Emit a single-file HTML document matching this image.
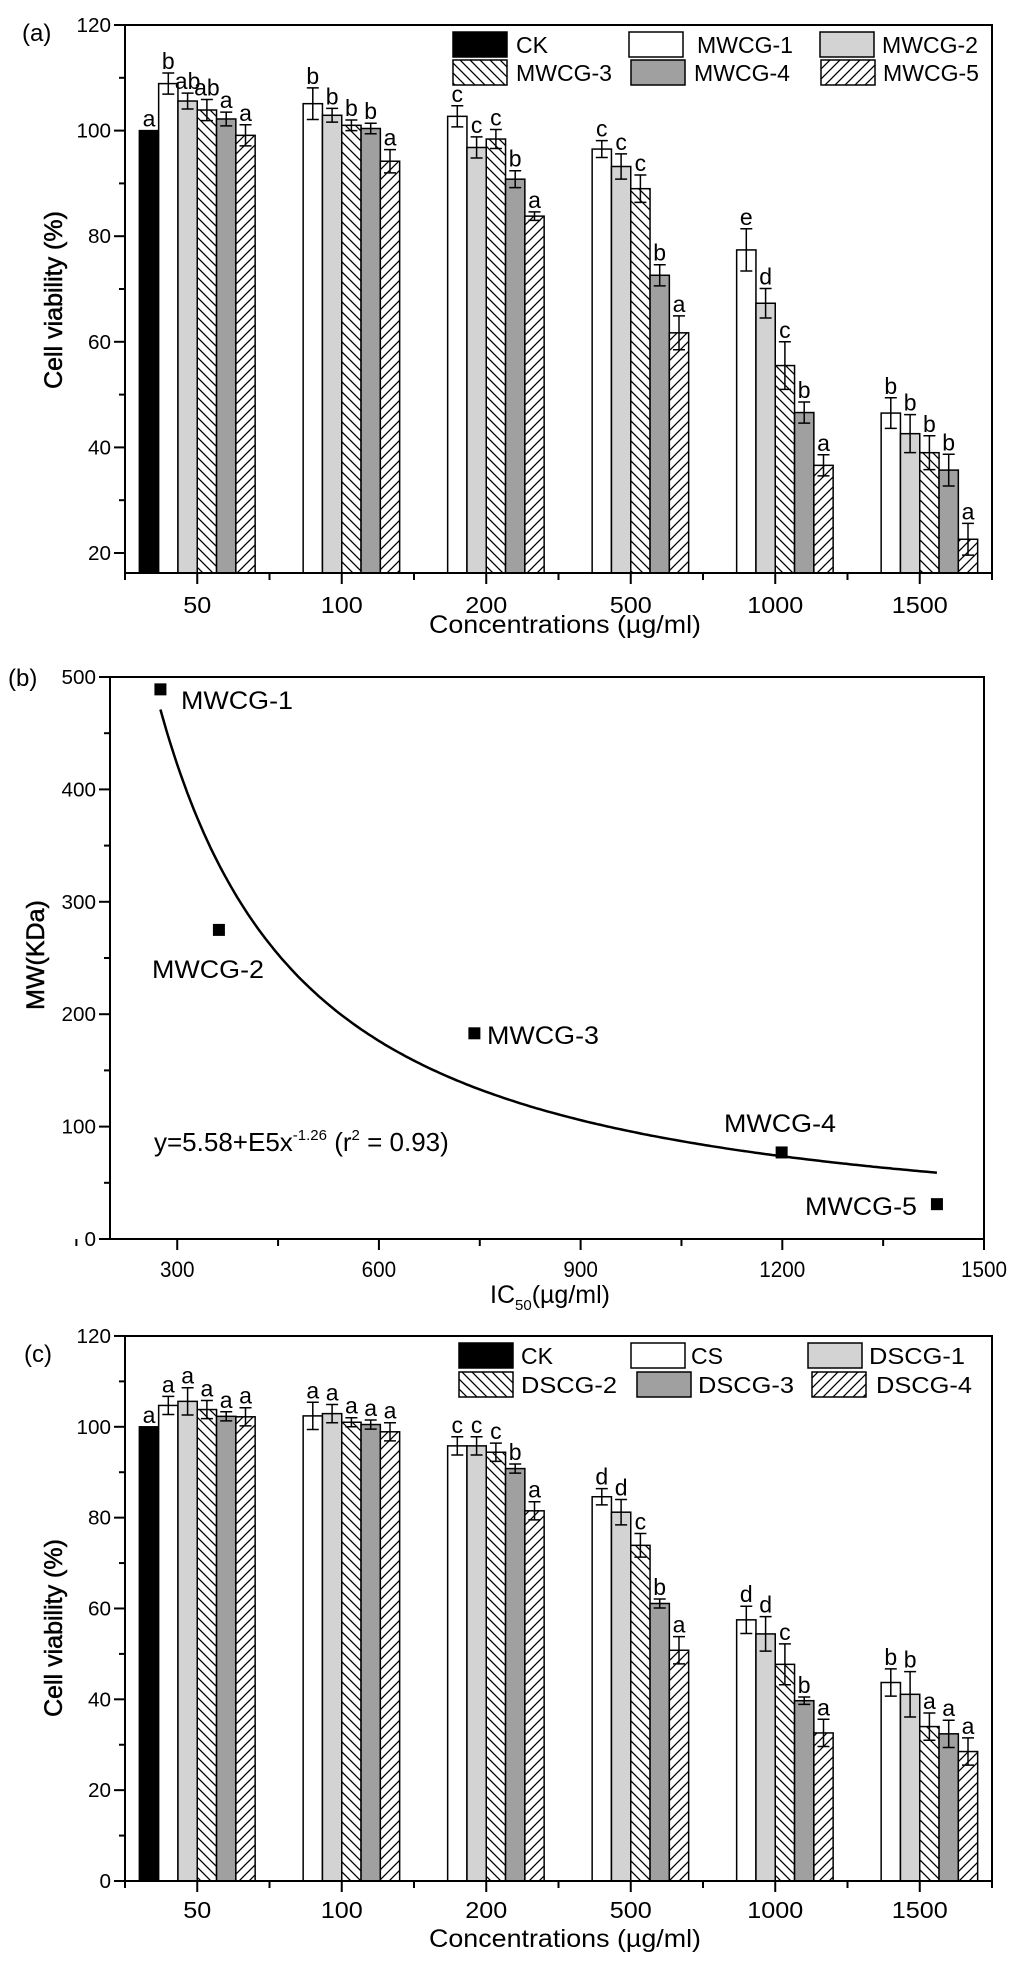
<!DOCTYPE html>
<html><head><meta charset="utf-8"><style>
html,body{margin:0;padding:0;background:#fff}
svg{display:block}
text{font-family:"Liberation Sans",Arial,sans-serif;fill:#000}
</style></head><body>
<svg id="fig" width="1024" height="1961" viewBox="0 0 1024 1961" xmlns="http://www.w3.org/2000/svg">
<defs>
<pattern id="hatchBack" patternUnits="userSpaceOnUse" width="10" height="10"><rect width="10" height="10" fill="#fff"/><path d="M-2,-2 L12,12 M-2,8 L2,12 M8,-2 L12,2" stroke="#000" stroke-width="1.3"/></pattern>
<pattern id="hatchFwd" patternUnits="userSpaceOnUse" width="10" height="10"><rect width="10" height="10" fill="#fff"/><path d="M-2,12 L12,-2 M-2,2 L2,-2 M8,12 L12,8" stroke="#000" stroke-width="1.3"/></pattern>
</defs>
<g id="pa"></g>
<g id="pb"></g>
<g id="pc"></g>
</svg>
<script>
// ---------- data ----------
const concentrations = ["50","100","200","500","1000","1500"];
// Panel (a)
const aSeries = ["CK","MWCG-1","MWCG-2","MWCG-3","MWCG-4","MWCG-5"];
const aCK = [100,null,null,null,null,null];
const aM1 = [108.9,105.1,102.7,96.5,77.4,46.5];
const aM2 = [105.6,102.9,96.8,93.2,67.3,42.6];
const aM3 = [103.9,101.0,98.4,89.0,55.5,39.0];
const aM4 = [102.2,100.4,90.8,72.6,46.6,35.7];
const aM5 = [99.1,94.2,83.8,61.7,36.6,22.6];
const aErrCK = [0,0,0,0,0,0];
const aErr1 = [2,3,2,1.6,4,2.9];
const aErr2 = [1.5,1.3,2,2.4,2.8,3.6];
const aErr3 = [2,1,1.8,2.6,4.5,3.2];
const aErr4 = [1.3,1,1.6,2,2,3];
const aErr5 = [2,2.2,0.8,3.2,2,3];
const aLetCK = ["a","","","","",""];
const aLet1 = ["b","b","c","c","e","b"];
const aLet2 = ["ab","b","c","c","d","b"];
const aLet3 = ["ab","b","c","c","c","b"];
const aLet4 = ["a","b","b","b","b","b"];
const aLet5 = ["a","a","a","a","a","a"];
const aYTicks = [20,40,60,80,100,120];
// Panel (b)
const bNames = ["MWCG-1","MWCG-2","MWCG-3","MWCG-4","MWCG-5"];
const bIC50 = [275,362,742,1199,1430];
const bMW = [489,275,183,77,31];
const bFitA = 5.58e5, bFitB = -1.26;
const bXTicks = [300,600,900,1200,1500];
const bYTicks = [0,100,200,300,400,500];
// Panel (c)
const cSeries = ["CK","CS","DSCG-1","DSCG-2","DSCG-3","DSCG-4"];
const cCK = [100,null,null,null,null,null];
const cCS = [104.7,102.4,95.8,84.6,57.5,43.7];
const cD1 = [105.6,102.9,95.8,81.2,54.4,41.1];
const cD2 = [103.8,101.0,94.4,73.9,47.7,34.0];
const cD3 = [102.3,100.5,90.8,61.1,39.7,32.4];
const cD4 = [102.2,98.9,81.5,50.8,32.6,28.5];
const cErrCK = [0,0,0,0,0,0];
const cErr1 = [2,3,2,1.8,3,3];
const cErr2 = [3,2,2,2.8,3.8,5];
const cErr3 = [2,1,2,2.6,4.5,3];
const cErr4 = [1,1,1,1,0.8,3];
const cErr5 = [2,2,2,3,3,3];
const cLetCK = ["a","","","","",""];
const cLet1 = ["a","a","c","d","d","b"];
const cLet2 = ["a","a","c","d","d","b"];
const cLet3 = ["a","a","c","c","c","a"];
const cLet4 = ["a","a","b","b","b","a"];
const cLet5 = ["a","a","a","a","a","a"];
const cYTicks = [0,20,40,60,80,100,120];

// ---------- helpers ----------
const NS="http://www.w3.org/2000/svg";
function mk(parent,tag,attrs,txt){const e=document.createElementNS(NS,tag);for(const k in attrs)e.setAttribute(k,attrs[k]);if(txt!==undefined)e.textContent=txt;parent.appendChild(e);return e;}
const fills=["#000","#fff","#d3d3d3","url(#hatchBack)","#a0a0a0","url(#hatchFwd)"];

function barPanel(g,cfg){
  const L=125,R=992,T=cfg.top,B=cfg.bottom;
  const bw=(R-L)/6, slot=19.3;
  const ys=v=>cfg.y0px-(v-cfg.y0)*cfg.k;
  const xc=i=>L+bw*(i+0.5);
  cfg.series.forEach((vals,s)=>{
    vals.forEach((v,i)=>{
      if(v===null)return;
      const x=xc(i)-3*slot+s*slot, y=ys(v);
      const r=mk(g,'rect',{x:x,y:y,width:slot,height:B-y,fill:fills[s],stroke:'#000','stroke-width':1.5});
      
      
      const e=cfg.errs[s][i];
      if(e>0){
        const cx=x+slot/2, y1=ys(v+e), y2=ys(v-e);
        const eb=mk(g,'path',{d:`M${cx},${y1}V${y2}M${cx-6},${y1}H${cx+6}M${cx-6},${y2}H${cx+6}`,stroke:'#000','stroke-width':1.5,fill:'none'});
        
        
      }
      const lt=cfg.letters[s][i];
      if(lt){
        const t=mk(g,'text',{x:x+slot/2,y:ys(v+e)-4,'text-anchor':'middle','font-size':23},lt);
        
        
      }
    });
  });
  const fr=mk(g,'rect',{x:L,y:T,width:R-L,height:B-T,fill:'none',stroke:'#000','stroke-width':2});
  
  
  cfg.yTicks.forEach(v=>{
    const y=ys(v);
    mk(g,'line',{x1:L-11,x2:L,y1:y,y2:y,stroke:'#000','stroke-width':2});
    const t=mk(g,'text',{x:L-14,y:y+7,'text-anchor':'end','font-size':20,textLength:(String(v).length*11.5),lengthAdjust:'spacingAndGlyphs'},v);
    
    
    const m=v+cfg.yStep/2;
    if(m<cfg.yTicks[cfg.yTicks.length-1]) mk(g,'line',{x1:L-6,x2:L,y1:ys(m),y2:ys(m),stroke:'#000','stroke-width':2});
  });
  for(let i=0;i<6;i++){
    const x=xc(i);
    mk(g,'line',{x1:x,x2:x,y1:B,y2:B+11,stroke:'#000','stroke-width':2});
    mk(g,'line',{x1:L+bw*(i+1),x2:L+bw*(i+1),y1:B,y2:B+7,stroke:'#000','stroke-width':2});
    const t=mk(g,'text',{x:x,y:B+cfg.xLabOff,'text-anchor':'middle','font-size':23,textLength:(concentrations[i].length*14),lengthAdjust:'spacingAndGlyphs'},concentrations[i]);
    
    
  }
  mk(g,'line',{x1:L,x2:L,y1:B,y2:B+7,stroke:'#000','stroke-width':2});
  const xt=mk(g,'text',{x:565,y:B+cfg.xTitleOff,'text-anchor':'middle','font-size':25,textLength:272,lengthAdjust:'spacingAndGlyphs'},'Concentrations (µg/ml)');
  
  
  const yt=mk(g,'text',{x:0,y:0,'text-anchor':'middle','font-size':25,stroke:'#000','stroke-width':0.5,transform:`translate(${cfg.yTitleX},${cfg.yTitleY}) rotate(-90)`},'Cell viability (%)');
  
  
  const pl=mk(g,'text',{x:cfg.lblX,y:cfg.lblY,'font-size':24},cfg.label);
  
  
  cfg.legend.forEach((it,s)=>{
    const lg=mk(g,'g',{});
    
    
    mk(lg,'rect',{x:it[0],y:it[1],width:54,height:25,fill:fills[s],stroke:'#000','stroke-width':1.5});
    mk(lg,'text',{x:it[2],y:it[1]+21,'font-size':23,textLength:(cfg.names[s].length*16),lengthAdjust:'spacingAndGlyphs'},cfg.names[s]);
  });
}

barPanel(document.getElementById('pa'),{
  top:25,bottom:573,y0:20,y0px:553,k:5.28,yStep:20,yTicks:aYTicks,
  series:[aCK,aM1,aM2,aM3,aM4,aM5],errs:[aErrCK,aErr1,aErr2,aErr3,aErr4,aErr5],
  letters:[aLetCK,aLet1,aLet2,aLet3,aLet4,aLet5],names:aSeries,
  xLabOff:40,xTitleOff:60,yTitleX:62,yTitleY:300,lblX:22,lblY:41,label:'(a)',
  legend:[[453,32,516],[629,32,697],[820,32,882],[453,60,516],[631,60,694],[821,60,883]]
});
barPanel(document.getElementById('pc'),{
  top:1336,bottom:1881,y0:0,y0px:1881,k:4.542,yStep:20,yTicks:cYTicks,
  series:[cCK,cCS,cD1,cD2,cD3,cD4],errs:[cErrCK,cErr1,cErr2,cErr3,cErr4,cErr5],
  letters:[cLetCK,cLet1,cLet2,cLet3,cLet4,cLet5],names:cSeries,
  xLabOff:37,xTitleOff:66,yTitleX:62,yTitleY:1628,lblX:24,lblY:1362,label:'(c)',
  legend:[[459,1343,521],[631,1343,691],[808,1343,869],[459,1372,521],[637,1372,698],[812,1372,876]]
});

// ---------- panel b ----------
(function(){
  const g=document.getElementById('pb');
  const L=110,R=984,T=677,B=1239;
  const xs=v=>L+(v-200)*(R-L)/1300;
  const ys=v=>B-v*(B-T)/500;
  const fr=mk(g,'rect',{x:L,y:T,width:R-L,height:B-T,fill:'none',stroke:'#000','stroke-width':2});
  
  
  bYTicks.forEach(v=>{
    const y=ys(v);
    mk(g,'line',{x1:L-11,x2:L,y1:y,y2:y,stroke:'#000','stroke-width':2});
    if(v<500) mk(g,'line',{x1:L-6,x2:L,y1:ys(v+50),y2:ys(v+50),stroke:'#000','stroke-width':2});
    const t=mk(g,'text',{x:L-14,y:y+7,'text-anchor':'end','font-size':20,textLength:(String(v).length*11.5),lengthAdjust:'spacingAndGlyphs'},v);
    
    
  });
  bXTicks.forEach(v=>{
    const x=xs(v);
    mk(g,'line',{x1:x,x2:x,y1:B,y2:B+11,stroke:'#000','stroke-width':2});
    mk(g,'line',{x1:xs(v-150),x2:xs(v-150),y1:B,y2:B+7,stroke:'#000','stroke-width':2});
    const t=mk(g,'text',{x:x,y:B+38,'text-anchor':'middle','font-size':22,textLength:(String(v).length*11.5),lengthAdjust:'spacingAndGlyphs'},v);
    
    
  });
  let d='';
  for(let x=bIC50[0];x<=bIC50[bIC50.length-1];x+=5){d+=(d?'L':'M')+xs(x).toFixed(1)+','+ys(bFitA*Math.pow(x,bFitB)).toFixed(1);}
  const c=mk(g,'path',{d:d,fill:'none',stroke:'#000','stroke-width':2.5});
  
  
  const lab=[[181,709],[152,978],[487,1044],[724,1132],[805,1215]];
  bNames.forEach((n,i)=>{
    const p=mk(g,'rect',{x:xs(bIC50[i])-6,y:ys(bMW[i])-6,width:12,height:12,fill:'#000'});
    
    
    const t=mk(g,'text',{x:lab[i][0],y:lab[i][1],'font-size':25,textLength:112,lengthAdjust:'spacingAndGlyphs'},n);
    
    
  });
  const eq=mk(g,'text',{x:154,y:1151,'font-size':26});
  
  
  eq.innerHTML='y=5.58+E5x<tspan dy="-11" font-size="15">-1.26</tspan><tspan dy="11"> (r</tspan><tspan dy="-11" font-size="15">2</tspan><tspan dy="11"> = 0.93)</tspan>';
  const xt=mk(g,'text',{x:550,y:1303,'text-anchor':'middle','font-size':25});
  
  
  xt.innerHTML='IC<tspan dy="7" font-size="15">50</tspan><tspan dy="-7">(µg/ml)</tspan>';
  const yt=mk(g,'text',{x:0,y:0,'text-anchor':'middle','font-size':25,stroke:'#000','stroke-width':0.5,transform:'translate(44,955) rotate(-90)'},'MW(KDa)');
  
  
  const pl=mk(g,'text',{x:8,y:686,'font-size':24},'(b)');
  
  
})();
</script>
</body></html>
